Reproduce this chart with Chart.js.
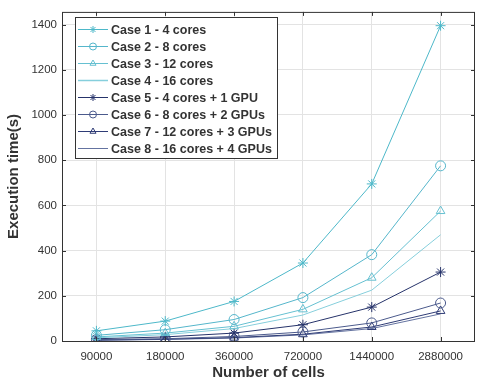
<!DOCTYPE html>
<html>
<head>
<meta charset="utf-8">
<script src="https://cdn.jsdelivr.net/npm/chart.js@4/dist/chart.umd.min.js"></script>
<style>
  html, body { margin: 0; padding: 0; background: #fff; }
  #wrap { width: 481px; height: 386px; }
</style>
</head>
<body>
<div id="wrap"><canvas id="chart" width="481" height="386"></canvas></div>
<script>
// ข้อมูลของกราฟ
const cells = ['90000', '180000', '360000', '720000', '1440000', '2880000'];
const caseLabels = [
  'Case 1 - 4 cores',
  'Case 2 - 8 cores',
  'Case 3 - 12 cores',
  'Case 4 - 16 cores',
  'Case 5 - 4 cores + 1 GPU',
  'Case 6 - 8 cores + 2 GPUs',
  'Case 7 - 12 cores + 3 GPUs',
  'Case 8 - 16 cores + 4 GPUs'
];
const case1 = [45, 88, 175, 345, 695, 1395];
const case2 = [25, 50, 95, 192, 382, 775];
const case3 = [18, 35, 65, 140, 280, 575];
const case4 = [14, 28, 55, 115, 225, 470];
const case5 = [10, 18, 35, 72, 150, 305];
const case6 = [6, 10, 20, 40, 80, 168];
const case7 = [4, 8, 15, 30, 62, 133];
const case8 = [3, 7, 13, 27, 55, 120];
const yTicks = [0, 200, 400, 600, 800, 1000, 1200, 1400];

const seriesValues = [case1, case2, case3, case4, case5, case6, case7, case8];
const colors = ['#4db8c9', '#55b6cb', '#66c0d1', '#86cfdc', '#26336a', '#4b5a8c', '#2f3c76', '#6473a0'];
const markers = ['star', 'circle', 'triangle', false, 'star', 'circle', 'triangle', false];

const datasets = seriesValues.map((vals, i) => ({
  label: caseLabels[i],
  data: vals,
  borderColor: colors[i],
  backgroundColor: 'rgba(0,0,0,0)',
  borderWidth: 1,
  pointStyle: markers[i],
  pointRadius: markers[i] ? 5 : 0,
  pointBorderWidth: 1,
  pointBorderColor: colors[i],
  pointBackgroundColor: 'rgba(0,0,0,0)',
  tension: 0
}));

// กรอบแกนและขีดเข้าด้านใน
const boxPlugin = {
  id: 'box',
  afterDraw(chart) {
    const { ctx, chartArea: a, scales } = chart;
    ctx.save();
    ctx.strokeStyle = '#333';
    ctx.lineWidth = 1;
    ctx.strokeRect(a.left + 0.5, a.top + 0.5, a.right - a.left - 1, a.bottom - a.top);
    ctx.beginPath();
    scales.x.ticks.forEach((t, i) => {
      const x = Math.round(scales.x.getPixelForTick(i)) + 0.5;
      ctx.moveTo(x, a.bottom); ctx.lineTo(x, a.bottom - 4);
      ctx.moveTo(x, a.top); ctx.lineTo(x, a.top + 4);
    });
    scales.y.ticks.forEach((t, i) => {
      const y = Math.round(scales.y.getPixelForTick(i)) + 0.5;
      ctx.moveTo(a.left, y); ctx.lineTo(a.left + 4, y);
      ctx.moveTo(a.right, y); ctx.lineTo(a.right - 4, y);
    });
    ctx.stroke();
    ctx.restore();
  }
};

// คำอธิบายสัญลักษณ์แบบมีกรอบในพื้นที่กราฟ
const legendBoxPlugin = {
  id: 'legendBox',
  afterDraw(chart) {
    const { ctx } = chart;
    const left = 75, top = 17, width = 202, rowH = 17;
    const height = rowH * chart.data.datasets.length + 5;
    ctx.save();
    ctx.fillStyle = '#fff';
    ctx.fillRect(left, top, width, height);
    ctx.strokeStyle = '#333';
    ctx.lineWidth = 1;
    ctx.strokeRect(left + 0.5, top + 0.5, width, height);
    ctx.font = 'bold 12.5px "Liberation Sans", Arial, sans-serif';
    ctx.textBaseline = 'middle';
    chart.data.datasets.forEach((ds, i) => {
      const y = top + 12 + i * rowH + 0.5;
      ctx.strokeStyle = ds.borderColor;
      ctx.lineWidth = i === 3 ? 1.5 : 1;
      ctx.beginPath();
      ctx.moveTo(78, y); ctx.lineTo(108, y);
      ctx.stroke();
      if (ds.pointStyle) {
        ctx.lineWidth = 1;
        ctx.fillStyle = 'rgba(0,0,0,0)';
        Chart.helpers.drawPoint(ctx, {
          pointStyle: ds.pointStyle, radius: 3.5, borderWidth: 1
        }, 93, y);
      }
      ctx.fillStyle = '#333';
      ctx.fillText(ds.label, 111, y + 1);
    });
    ctx.restore();
  }
};

new Chart(document.getElementById('chart'), {
  type: 'line',
  data: { labels: cells, datasets: datasets },
  options: {
    responsive: false,
    animation: false,
    layout: { padding: { top: 5, right: 1, left: 0, bottom: 0 } },
    plugins: { legend: { display: false }, tooltip: { enabled: false } },
    scales: {
      x: {
        offset: true,
        grid: { color: '#e3e3e3', drawTicks: false, offset: false },
        border: { display: false },
        ticks: { color: '#333', font: { size: 11.5, family: '"Liberation Sans", Arial' }, padding: 9, maxRotation: 0 },
        title: { display: true, text: 'Number of cells', color: '#333', font: { size: 15, weight: 'bold', family: '"Liberation Sans", Arial' }, padding: { top: 3 } },
        afterFit(scale) { scale.height = 45; }
      },
      y: {
        min: 0,
        max: 1456,
        grid: { color: '#e3e3e3', drawTicks: false },
        border: { display: false },
        afterBuildTicks(scale) { scale.ticks = yTicks.map(v => ({ value: v })); },
        ticks: {
          color: '#333', font: { size: 11.5, family: '"Liberation Sans", Arial' }, padding: 5,
          callback: (v) => String(v)
        },
        title: { display: true, text: 'Execution time(s)', color: '#333', font: { size: 15, weight: 'bold', family: '"Liberation Sans", Arial' }, padding: { top: 5, bottom: 0 } },
        afterFit(scale) { scale.width = 62; }
      }
    }
  },
  plugins: [boxPlugin, legendBoxPlugin]
});
</script>
</body>
</html>
